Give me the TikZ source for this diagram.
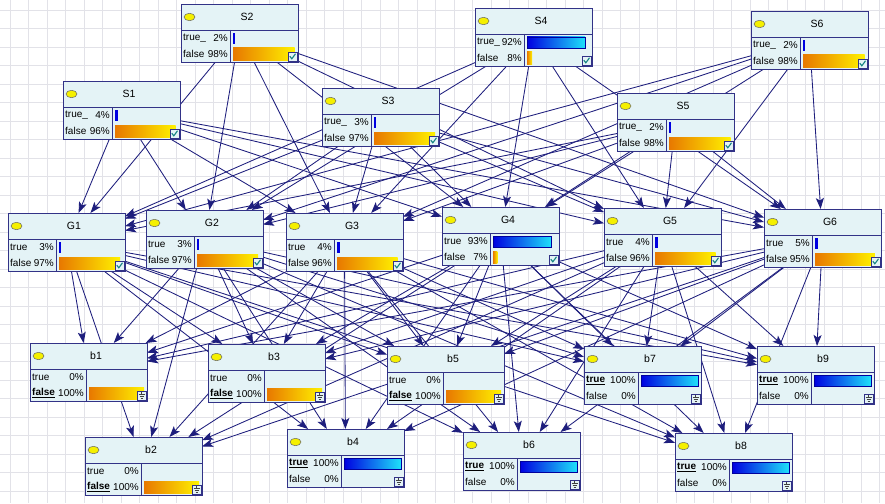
\documentclass[tikz,border=0pt]{standalone}
\usepackage{fontspec}
\setmainfont{Liberation Sans}
\usetikzlibrary{arrows.meta}
\pgfdeclarelayer{gridlayer}
\pgfdeclarelayer{edgelayer}
\pgfsetlayers{gridlayer,edgelayer,main}

\definecolor{boxfill}{RGB}{228,243,246}
\definecolor{boxline}{RGB}{50,50,135}
\definecolor{edgecol}{RGB}{30,30,125}
\definecolor{gridcol}{RGB}{226,226,232}
\definecolor{bluedark}{RGB}{0,0,225}
\definecolor{bluelight}{RGB}{30,225,250}
\definecolor{orgdark}{RGB}{232,120,0}
\definecolor{orglight}{RGB}{255,242,0}
\definecolor{ellfill}{RGB}{245,240,0}
\definecolor{checkcol}{RGB}{20,130,130}

\tikzset{
 netbox/.style={draw=boxline, fill=boxfill, line width=0.9pt, minimum width=117pt, minimum height=58pt, inner sep=0pt, outer sep=0pt, anchor=north west},
 link/.style={draw=edgecol, line width=0.85pt, -{Stealth[length=11pt,width=8pt,inset=2.5pt]}},
 titletext/.style={font=\fontsize{10.5}{12}\selectfont, text=black},
 stname/.style={anchor=west, font=\fontsize{10}{12}\selectfont, inner sep=0pt, text=black},
 stpct/.style={anchor=east, font=\fontsize{10}{12}\selectfont, inner sep=0pt, text=black},
}

\newcommand{\NetNode}[6]{%
 \node[netbox] (#1) at (#2,#3) {};
 \begin{scope}[shift={(#2,#3)}]
  \def\dv{#5}
  \draw[boxline, line width=0.9pt] (0,26) -- (117,26);
  \draw[boxline, line width=0.9pt] (#5,26) -- (#5,58);
  \filldraw[fill=ellfill, draw=black!60, line width=0.5pt] (8.5,13) ellipse (5.5pt and 3.7pt);
  \node[titletext] at (66,13) {#4};
  #6
 \end{scope}}
\newcommand{\Rows}[4]{%
 \node[stname] at (2,34) {#1};
 \node[stpct] at (\dv-2,34) {#2};
 \node[stname] at (2,50) {#3};
 \node[stpct] at (\dv-2,50) {#4};}
\newcommand{\TBar}[1]{\shade[left color=bluedark, right color=bluelight, draw=bluedark!70!black, line width=0.4pt] (\dv+3,29) rectangle ++(#1,11);}
\newcommand{\TTick}[1]{\fill[bluedark] (\dv+3,29) rectangle ++(#1,11);}
\newcommand{\FBar}[1]{\shade[left color=orgdark, right color=orglight] (\dv+3,44) rectangle ++(#1,12);}
\newcommand{\CheckIcon}{\filldraw[fill=boxfill, draw=boxline, line width=0.5pt] (107,48) rectangle (116,57);
 \draw[checkcol, line width=1.1pt] (108.8,52.2) -- (110.8,54.8) -- (114.5,49.8);}
\newcommand{\GndIcon}{\filldraw[fill=boxfill, draw=boxline, line width=0.5pt] (107,48) rectangle (116,57);
 \draw[black!75, line width=0.5pt] (111.5,49.3)--(111.5,51.3) (108.5,51.3)--(114.5,51.3) (109.5,53.3)--(113.5,53.3) (110.5,55.3)--(112.5,55.3);}

\begin{document}
\begin{tikzpicture}[x=1pt,y=-1pt]
\useasboundingbox (0,0) rectangle (885,503);
\begin{pgfonlayer}{gridlayer}
 \fill[white] (0,0) rectangle (885,503);
 \foreach \g in {0,...,47} {
  \draw[gridcol, line width=0.6pt] (10+\g*18.5,0) -- (10+\g*18.5,503);
 }
 \foreach \g in {0,...,27} {
  \draw[gridcol, line width=0.6pt] (0,10+\g*18.5) -- (885,10+\g*18.5);
 }
\end{pgfonlayer}

% ---- S row ----
\NetNode{S1}{63}{81}{S1}{49}{\Rows{true\_}{4\%}{false}{96\%}\TTick{2.5}\FBar{60.5}\CheckIcon}
\NetNode{S2}{181}{4}{S2}{49}{\Rows{true\_}{2\%}{false}{98\%}\TTick{1.5}\FBar{61.7}\CheckIcon}
\NetNode{S3}{322}{88}{S3}{49}{\Rows{true\_}{3\%}{false}{97\%}\TTick{2}\FBar{61.1}\CheckIcon}
\NetNode{S4}{475}{8}{S4}{49}{\Rows{true\_}{92\%}{false}{8\%}\TBar{58}\FBar{5}\CheckIcon}
\NetNode{S5}{617}{93}{S5}{49}{\Rows{true\_}{2\%}{false}{98\%}\TTick{1.5}\FBar{61.7}\CheckIcon}
\NetNode{S6}{751}{11}{S6}{49}{\Rows{true\_}{2\%}{false}{98\%}\TTick{1.5}\FBar{61.7}\CheckIcon}

% ---- G row ----
\NetNode{G1}{8}{213}{G1}{48}{\Rows{true}{3\%}{false}{97\%}\TTick{2}\FBar{61.1}\CheckIcon}
\NetNode{G2}{146}{210}{G2}{48}{\Rows{true}{3\%}{false}{97\%}\TTick{2}\FBar{61.1}\CheckIcon}
\NetNode{G3}{286}{213}{G3}{48}{\Rows{true}{4\%}{false}{96\%}\TTick{2.5}\FBar{60.5}\CheckIcon}
\NetNode{G4}{442}{207}{G4}{48}{\Rows{true}{93\%}{false}{7\%}\TBar{58.6}\FBar{4.4}\CheckIcon}
\NetNode{G5}{604}{208}{G5}{48}{\Rows{true}{4\%}{false}{96\%}\TTick{2.5}\FBar{60.5}\CheckIcon}
\NetNode{G6}{764}{209}{G6}{48}{\Rows{true}{5\%}{false}{95\%}\TTick{3.2}\FBar{59.9}\CheckIcon}

% ---- b rows ----
\NetNode{b1}{30}{343}{b1}{56}{\Rows{true}{0\%}{\underline{\textbf{false}}}{100\%}\FBar{55}\GndIcon}
\NetNode{b2}{85}{437}{b2}{56}{\Rows{true}{0\%}{\underline{\textbf{false}}}{100\%}\FBar{55}\GndIcon}
\NetNode{b3}{208}{344}{b3}{56}{\Rows{true}{0\%}{\underline{\textbf{false}}}{100\%}\FBar{55}\GndIcon}
\NetNode{b4}{287}{429}{b4}{54}{\Rows{\underline{\textbf{true}}}{100\%}{false}{0\%}\TBar{57}\GndIcon}
\NetNode{b5}{387}{346}{b5}{56}{\Rows{true}{0\%}{\underline{\textbf{false}}}{100\%}\FBar{55}\GndIcon}
\NetNode{b6}{463}{432}{b6}{54}{\Rows{\underline{\textbf{true}}}{100\%}{false}{0\%}\TBar{57}\GndIcon}
\NetNode{b7}{584}{346}{b7}{54}{\Rows{\underline{\textbf{true}}}{100\%}{false}{0\%}\TBar{57}\GndIcon}
\NetNode{b8}{675}{433}{b8}{54}{\Rows{\underline{\textbf{true}}}{100\%}{false}{0\%}\TBar{57}\GndIcon}
\NetNode{b9}{757}{346}{b9}{54}{\Rows{\underline{\textbf{true}}}{100\%}{false}{0\%}\TBar{57}\GndIcon}

% ---- links ----
\begin{pgfonlayer}{edgelayer}
 \foreach \i in {1,...,6} {
  \foreach \j in {1,...,6} {
   \draw[link] (S\i) -- (G\j);
  }
 }
 \foreach \j in {1,...,6} {
  \foreach \k in {1,...,9} {
   \draw[link] (G\j) -- (b\k);
  }
 }
\end{pgfonlayer}
\end{tikzpicture}
\end{document}
